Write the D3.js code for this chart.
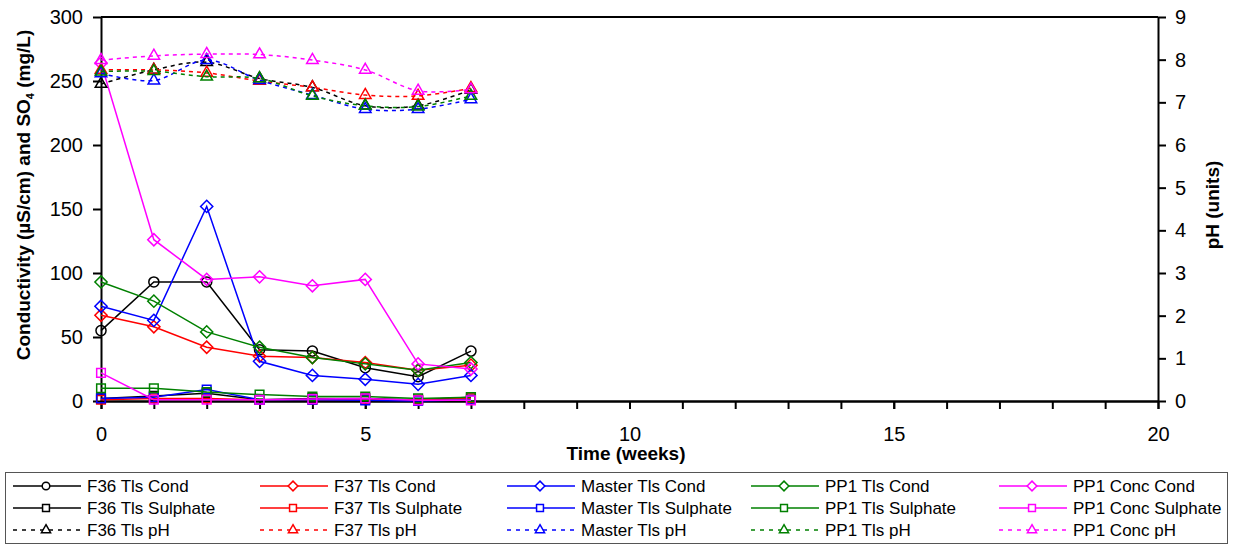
<!DOCTYPE html>
<meta charset="utf-8">
<title>Conductivity, sulphate and pH</title>
<style>
    body { margin: 0; background: #fff; }
    svg { display: block; font-family: "Liberation Sans", Arial, sans-serif; }
    .axis path, .axis line { stroke: #000; stroke-width: 2px; }
    .axis text { font-size: 20px; fill: #000; }
    .title { font-size: 19px; font-weight: bold; }
    .legend text { font-size: 17px; }
</style>
<body>
<svg id="chart"></svg>
<script src="https://cdn.jsdelivr.net/npm/d3@7"></script>
<script>
    // data
    var weeks = [0, 1, 2, 3, 4, 5, 6, 7];

    var f36Cond = [55, 93, 93, 40, 39, 26, 19, 39];
    var f37Cond = [67, 58, 42, 35, 34, 30, 24, 28];
    var masterCond = [74, 63, 152, 31, 20, 17, 13, 20];
    var pp1Cond = [93, 78, 54, 42, 34, 29, 24, 30];
    var pp1ConcCond = [264, 126, 95, 97, 90, 95, 29, 25];

    var f36Sulph = [2, 4, 6, 1, 2, 2, 1, 3];
    var f37Sulph = [1, 2, 2, 1, 1, 1, 1, 2];
    var masterSulph = [2, 3, 9, 1, 1, 0.5, 0, 1];
    var pp1Sulph = [10, 10, 7, 5, 3.5, 3.5, 2, 3];
    var pp1ConcSulph = [22, 1, 1, 1, 1.5, 2, 0.5, 0.5];

    var f36PH = [7.43, 7.76, 7.94, 7.56, 7.35, 6.92, 6.92, 7.29];
    var f37PH = [7.76, 7.76, 7.69, 7.5, 7.35, 7.17, 7.15, 7.33];
    var masterPH = [7.68, 7.51, 7.99, 7.52, 7.17, 6.84, 6.84, 7.07];
    var pp1PH = [7.72, 7.73, 7.6, 7.56, 7.15, 6.92, 6.9, 7.15];
    var pp1ConcPH = [7.99, 8.09, 8.13, 8.12, 7.99, 7.76, 7.27, 7.3];

    var leftTicks = [0, 50, 100, 150, 200, 250, 300];
    var rightTicks = [0, 1, 2, 3, 4, 5, 6, 7, 8, 9];
    var xTicks = [0, 5, 10, 15, 20];

    var series = [
        { name: "F36 Tls Cond", values: f36Cond, color: "#000000", marker: "circle", axis: "left" },
        { name: "F37 Tls Cond", values: f37Cond, color: "#ff0000", marker: "diamond", axis: "left" },
        { name: "Master Tls Cond", values: masterCond, color: "#0000ff", marker: "diamond", axis: "left" },
        { name: "PP1 Tls Cond", values: pp1Cond, color: "#008000", marker: "diamond", axis: "left" },
        { name: "PP1 Conc Cond", values: pp1ConcCond, color: "#ff00ff", marker: "diamond", axis: "left" },
        { name: "F36 Tls Sulphate", values: f36Sulph, color: "#000000", marker: "square", axis: "left" },
        { name: "F37 Tls Sulphate", values: f37Sulph, color: "#ff0000", marker: "square", axis: "left" },
        { name: "Master Tls Sulphate", values: masterSulph, color: "#0000ff", marker: "square", axis: "left" },
        { name: "PP1 Tls Sulphate", values: pp1Sulph, color: "#008000", marker: "square", axis: "left" },
        { name: "PP1 Conc Sulphate", values: pp1ConcSulph, color: "#ff00ff", marker: "square", axis: "left" },
        { name: "F36 Tls pH", values: f36PH, color: "#000000", marker: "triangle", axis: "right" },
        { name: "F37 Tls pH", values: f37PH, color: "#ff0000", marker: "triangle", axis: "right" },
        { name: "Master Tls pH", values: masterPH, color: "#0000ff", marker: "triangle", axis: "right" },
        { name: "PP1 Tls pH", values: pp1PH, color: "#008000", marker: "triangle", axis: "right" },
        { name: "PP1 Conc pH", values: pp1ConcPH, color: "#ff00ff", marker: "triangle", axis: "right" }
    ];

    var W = 1233, H = 546;
    var plot = { left: 101, right: 1158, top: 17, bottom: 401 };

    var svg = d3.select("#chart").attr("width", W).attr("height", H);

    var x = d3.scaleLinear().domain([0, 20]).range([plot.left, plot.right]);
    var yL = d3.scaleLinear().domain([0, 300]).range([plot.bottom, plot.top]);
    var yR = d3.scaleLinear().domain([0, 9]).range([plot.bottom, plot.top]);

    // top border of the plot area
    svg.append("line")
        .attr("x1", plot.left).attr("x2", plot.right)
        .attr("y1", plot.top).attr("y2", plot.top)
        .attr("stroke", "#000").attr("stroke-width", 2);

    // minor week ticks, then the labelled ones
    svg.append("g").attr("class", "axis")
        .attr("transform", "translate(0," + plot.bottom + ")")
        .call(d3.axisBottom(x).tickValues(d3.range(0, 21)).tickFormat("").tickSize(8).tickSizeOuter(0));
    svg.append("g").attr("class", "axis")
        .attr("transform", "translate(0," + plot.bottom + ")")
        .call(d3.axisBottom(x).tickValues(xTicks).tickSize(8).tickSizeOuter(0).tickPadding(18));

    svg.append("g").attr("class", "axis")
        .attr("transform", "translate(" + plot.left + ",0)")
        .call(d3.axisLeft(yL).tickValues(leftTicks).tickSize(8).tickSizeOuter(0).tickPadding(10));

    svg.append("g").attr("class", "axis")
        .attr("transform", "translate(" + plot.right + ",0)")
        .call(d3.axisRight(yR).tickValues(rightTicks).tickSize(8).tickSizeOuter(0).tickPadding(9));

    // axis titles
    var lt = svg.append("text").attr("class", "title")
        .attr("text-anchor", "middle")
        .attr("transform", "translate(30,195) rotate(-90)");
    lt.append("tspan").text("Conductivity (µS/cm) and SO");
    lt.append("tspan").attr("font-size", "11px").attr("dy", 4).text("4");
    lt.append("tspan").attr("dy", -4).text(" (mg/L)");

    svg.append("text").attr("class", "title")
        .attr("text-anchor", "middle")
        .attr("transform", "translate(1219,205) rotate(-90)")
        .text("pH  (units)");

    svg.append("text").attr("class", "title")
        .attr("x", 626).attr("y", 460)
        .attr("text-anchor", "middle")
        .text("Time (weeks)");

    function symbolType(m) {
        return m === "circle" ? d3.symbolCircle :
            m === "diamond" ? d3.symbolDiamond2 :
            m === "square" ? d3.symbolSquare2 : d3.symbolTriangle2;
    }

    var lineStraight = d3.line();
    var lineSmooth = d3.line().curve(d3.curveCatmullRom.alpha(0.5));

    var marks = svg.append("g");
    series.forEach(function (s) {
        var yS = s.axis === "left" ? yL : yR;
        var pts = weeks.map(function (w, i) { return [x(w), yS(s.values[i])]; });
        marks.append("path")
            .datum(pts)
            .attr("d", s.axis === "left" ? lineStraight : lineSmooth)
            .attr("fill", "none")
            .attr("stroke", s.color)
            .attr("stroke-width", 1.5)
            .attr("stroke-dasharray", s.axis === "left" ? null : "4,4");
        var sym = d3.symbol().type(symbolType(s.marker)).size(s.marker === "circle" ? 80 : 95);
        marks.selectAll(null)
            .data(pts)
            .enter().append("path")
            .attr("d", sym())
            .attr("transform", function (p) { return "translate(" + p[0] + "," + p[1] + ")"; })
            .attr("fill", "none")
            .attr("stroke", s.color)
            .attr("stroke-width", 1.5);
    });

    // legend
    var legend = svg.append("g").attr("class", "legend");
    legend.append("rect")
        .attr("x", 5.5).attr("y", 472.5)
        .attr("width", 1222).attr("height", 71)
        .attr("fill", "#fff").attr("stroke", "#555").attr("stroke-width", 1);

    var colX = [13, 260, 507, 751, 999];
    var rowY = [486, 508, 530];
    series.forEach(function (s, i) {
        var col = i % 5, row = Math.floor(i / 5);
        var lx = colX[col], ly = rowY[row];
        legend.append("line")
            .attr("x1", lx).attr("x2", lx + 68)
            .attr("y1", ly).attr("y2", ly)
            .attr("stroke", s.color).attr("stroke-width", 1.5)
            .attr("stroke-dasharray", s.axis === "left" ? null : "4,5");
        legend.append("path")
            .attr("d", d3.symbol().type(symbolType(s.marker)).size(s.marker === "circle" ? 45 : 60)())
            .attr("transform", "translate(" + (lx + 33) + "," + ly + ")")
            .attr("fill", "#fff")
            .attr("stroke", s.color).attr("stroke-width", 1.5);
        legend.append("text")
            .attr("x", lx + 74).attr("y", ly + 6)
            .text(s.name);
    });
</script>
</body>
